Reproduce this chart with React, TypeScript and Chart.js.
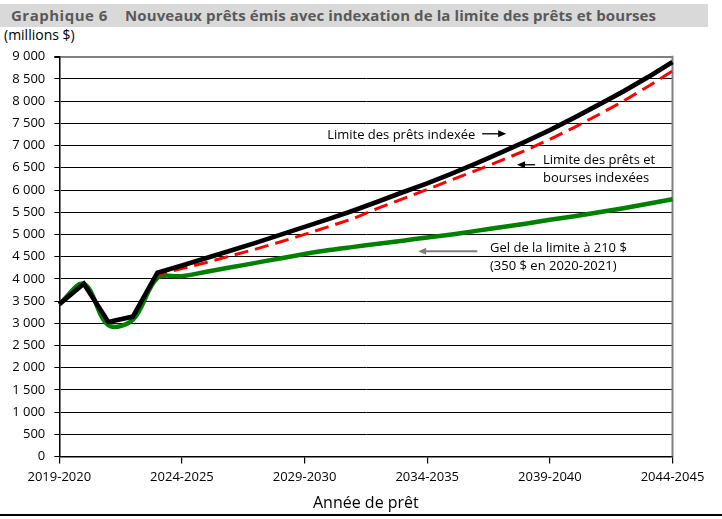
import { useEffect, useRef } from "react"
import { Chart, registerables } from "chart.js"

Chart.register(...registerables)

// Année de prêt
const years = [
    '2019-2020', '2020-2021', '2021-2022', '2022-2023', '2023-2024', '2024-2025',
    '2025-2026', '2026-2027', '2027-2028', '2028-2029', '2029-2030', '2030-2031',
    '2031-2032', '2032-2033', '2033-2034', '2034-2035', '2035-2036', '2036-2037',
    '2037-2038', '2038-2039', '2039-2040', '2040-2041', '2041-2042', '2042-2043',
    '2043-2044', '2044-2045',
]

// millions $
const indexedLimit = [
    3430, 3890, 3030, 3150, 4140, 4300, 4470, 4640, 4810, 4990, 5170, 5350, 5540,
    5740, 5950, 6150, 6370, 6600, 6840, 7090, 7350, 7630, 7920, 8220, 8540, 8880,
]
const indexedLimitAndGrants = [
    3430, 3890, 3030, 3150, 4100, 4230, 4370, 4520, 4670, 4830, 5000, 5180, 5360,
    5590, 5800, 6010, 6230, 6440, 6660, 6890, 7140, 7410, 7700, 8000, 8330, 8680,
]
const frozenLimit = [
    3430, 3890, 2960, 3080, 4020, 4060, 4160, 4260, 4360, 4460, 4560, 4650, 4720,
    4790, 4860, 4930, 5000, 5080, 5160, 5240, 5330, 5410, 5500, 5590, 5690, 5790,
]

const yMax = 9000
const yStep = 500
const labelEvery = 5

// notes placed in data space: x = category index, y = value
const notes = [
    { lines: ['Limite des prêts indexée'], x: 10.92, y: 7220, arrow: { from: 17.24, to: 18.22, y: 7265, color: '#000', width: 1.3 } },
    { lines: ['Limite des prêts et', 'bourses indexées'], x: 19.72, y: 6665, arrow: { from: 19.40, to: 18.66, y: 6568, color: '#000', width: 1.3 } },
    { lines: ['Gel de la limite à 210 $', '(350 $ en 2020-2021)'], x: 17.56, y: 4680, arrow: { from: 17.04, to: 14.63, y: 4620, color: '#7f7f7f', width: 2 } },
]

const FONT = '"Open Sans", "DejaVu Sans", sans-serif'

function spaced(v: number) {
    return String(v).replace(/\B(?=(\d{3})+(?!\d))/g, ' ')
}

const extras = {
    id: 'extras',
    beforeDatasetsDraw(chart: any) {
        const { ctx, chartArea } = chart
        ctx.save()
        ctx.strokeStyle = '#808080'
        ctx.lineWidth = 2
        ctx.beginPath()
        ctx.moveTo(chartArea.right, chartArea.top - 1)
        ctx.lineTo(chartArea.right, chartArea.bottom)
        ctx.stroke()
        ctx.restore()
    },
    afterDatasetsDraw(chart: any) {
        const { ctx, scales: { x, y } } = chart
        ctx.save()
        ctx.font = `13px ${FONT}`
        ctx.fillStyle = '#000'
        ctx.textBaseline = 'middle'
        ctx.textAlign = 'left'
        for (const n of notes) {
            const left = x.getPixelForValue(n.x)
            const top = y.getPixelForValue(n.y)
            n.lines.forEach((t, i) => ctx.fillText(t, left, top + i * 17.7))
            const a = n.arrow
            const x1 = x.getPixelForValue(a.from)
            const x2 = x.getPixelForValue(a.to)
            const ay = y.getPixelForValue(a.y)
            const dir = Math.sign(x2 - x1)
            ctx.strokeStyle = a.color
            ctx.fillStyle = a.color
            ctx.lineWidth = a.width
            ctx.beginPath()
            ctx.moveTo(x1, ay)
            ctx.lineTo(x2 - dir * 6, ay)
            ctx.stroke()
            ctx.beginPath()
            ctx.moveTo(x2, ay)
            ctx.lineTo(x2 - dir * 8, ay - 3.5)
            ctx.lineTo(x2 - dir * 8, ay + 3.5)
            ctx.closePath()
            ctx.fill()
            ctx.fillStyle = '#000'
        }
        ctx.restore()
    },
}

export default function App() {
    const canvasRef = useRef<HTMLCanvasElement>(null)
    useEffect(() => {
        const el = canvasRef.current
        if (el == null) return
        Chart.defaults.font.family = FONT
        const chart = new Chart(el, {
            type: 'line',
            data: {
                labels: years,
                datasets: [
                    {
                        label: 'Limite des prêts indexée',
                        data: indexedLimit,
                        borderColor: '#000',
                        borderWidth: 4.7,
                        tension: 0,
                        pointRadius: 0,
                    },
                    {
                        label: 'Limite des prêts et bourses indexées',
                        data: indexedLimitAndGrants,
                        borderColor: '#ff0000',
                        borderWidth: 3,
                        borderDash: [14, 7],
                        tension: 0,
                        pointRadius: 0,
                    },
                    {
                        label: 'Gel de la limite à 210 $',
                        data: frozenLimit,
                        borderColor: '#008000',
                        borderWidth: 4.5,
                        tension: 0.35,
                        pointRadius: 0,
                    },
                ],
            },
            options: {
                animation: false,
                responsive: false,
                events: [],
                layout: { padding: { top: 56.7, right: 49.5, left: 0, bottom: 0 } },
                plugins: {
                    legend: { display: false },
                    tooltip: { enabled: false },
                },
                scales: {
                    x: {
                        grid: {
                            drawOnChartArea: false,
                            drawTicks: true,
                            tickLength: 7,
                            lineWidth: 1.2,
                            color: (c: any) => (c.index % labelEvery === 0 ? '#000' : 'rgba(0,0,0,0)'),
                        },
                        border: { display: true, color: '#000', width: 1.5 },
                        ticks: {
                            autoSkip: false,
                            maxRotation: 0,
                            padding: 6,
                            color: '#000',
                            font: { size: 13 },
                            callback: (_v: any, i: number) => (i % labelEvery === 0 ? years[i] : ''),
                        },
                        title: {
                            display: true,
                            text: 'Année de prêt',
                            color: '#000',
                            font: { size: 16 },
                            padding: { top: 0, bottom: 6 },
                        },
                        afterFit: (s: any) => { s.height = 62.4 },
                    },
                    y: {
                        min: 0,
                        max: yMax,
                        ticks: {
                            stepSize: yStep,
                            padding: 9,
                            color: '#000',
                            font: { size: 13 },
                            callback: (v: any) => spaced(Number(v)),
                        },
                        grid: {
                            tickLength: 5,
                            tickColor: '#000',
                            color: (c: any) => (c.tick && c.tick.value === yMax ? '#808080' : '#000'),
                            lineWidth: (c: any) => (c.tick && c.tick.value === yMax ? 2 : 1),
                        },
                        border: { display: true, color: '#000', width: 1.5 },
                        afterFit: (s: any) => { s.width = 59.3 },
                    },
                },
            },
            plugins: [extras],
        })
        return () => chart.destroy()
    }, [canvasRef])

    return (
        <div style={{ position: 'absolute', left: 0, top: 0, width: 722, height: 519, background: '#fff', fontFamily: FONT, overflow: 'hidden' }}>
            <div style={{ position: 'absolute', left: 0, top: 4, width: 708, height: 23, background: '#d9d9d9' }} />
            <div style={{ position: 'absolute', left: 11, top: 4, height: 23, lineHeight: '23px', fontSize: 15, fontWeight: 700, letterSpacing: '0.5px', color: '#595959', whiteSpace: 'nowrap' }}>
                Graphique 6
            </div>
            <div style={{ position: 'absolute', left: 125, top: 4, height: 23, lineHeight: '23px', fontSize: 15, fontWeight: 700, letterSpacing: '0.1px', color: '#595959', whiteSpace: 'nowrap' }}>
                Nouveaux prêts émis avec indexation de la limite des prêts et bourses
            </div>
            <div style={{ position: 'absolute', left: 4, top: 26, lineHeight: '18px', fontSize: 14, color: '#000', whiteSpace: 'nowrap' }}>
                (millions $)
            </div>
            <canvas ref={canvasRef} width={722} height={519} style={{ position: 'absolute', left: 0, top: 0 }} />
            <div style={{ position: 'absolute', left: 0, top: 514, width: 722, height: 1.5, background: '#000' }} />
        </div>
    )
}
